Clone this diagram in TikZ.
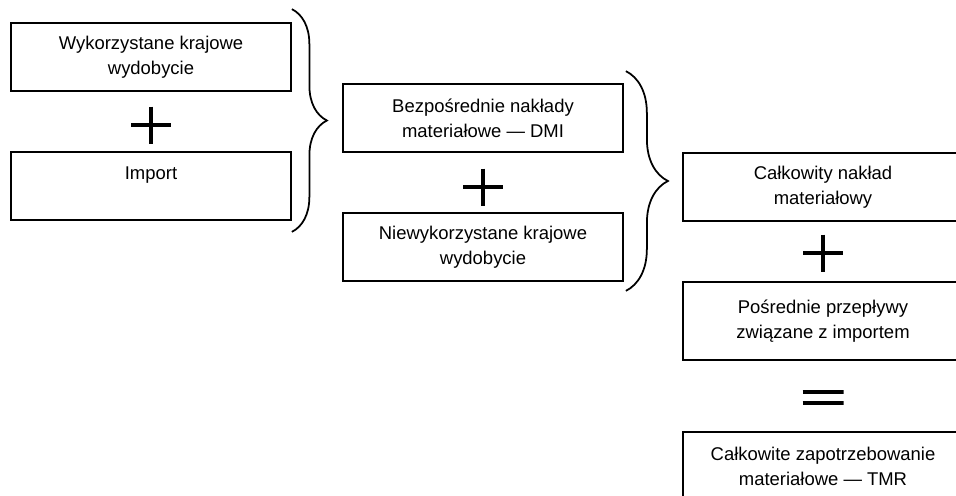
\documentclass[tikz,border=0pt]{standalone}
\usepackage{fontspec}
\setmainfont{Liberation Sans}
\usetikzlibrary{decorations.pathreplacing}

\begin{document}
\begin{tikzpicture}[
    box/.style={draw, line width=1pt, minimum width=5.6cm, minimum height=1.36cm,
      align=center, font=\fontsize{10.5}{14.2}\selectfont},
    plussign/.style={inner sep=0pt, minimum width=0.8cm, minimum height=0.74cm,
      path picture={
        \draw[line width=2.3pt] (path picture bounding box.north) -- (path picture bounding box.south);
        \draw[line width=2.3pt] (path picture bounding box.west) -- (path picture bounding box.east);}},
    eqsign/.style={inner sep=0pt, minimum width=0.82cm, minimum height=0.4cm,
      path picture={
        \draw[line width=2.3pt] ([yshift=0.11cm]path picture bounding box.west) -- ([yshift=0.11cm]path picture bounding box.east);
        \draw[line width=2.3pt] ([yshift=-0.11cm]path picture bounding box.west) -- ([yshift=-0.11cm]path picture bounding box.east);}},
    curly/.style={decorate, line width=1pt, decoration={brace, amplitude=#1}}
  ]
  \useasboundingbox (0,0) rectangle (19.12,-9.9);

  % first column
  \node (wyk) [box] at (3.02,-1.14) {Wykorzystane krajowe\\wydobycie};
  \node (imp) [box, below of=wyk, node distance=2.58cm] {Import\\\phantom{I}};
  \node (p1) [plussign, below of=wyk, node distance=1.36cm] {};

  % second column
  \node (dmi) [box] at (9.66,-2.36) {Bezpośrednie nakłady\\materiałowe — DMI};
  \node (niew) [box, below of=dmi, node distance=2.58cm] {Niewykorzystane krajowe\\wydobycie};
  \node (p2) [plussign, below of=dmi, node distance=1.38cm] {};

  % third column
  \node (cnm) [box] at (16.46,-3.74) {Całkowity nakład\\materiałowy};
  \node (p3) [plussign, below of=cnm, node distance=1.32cm] {};
  \node (posr) [box, minimum height=1.56cm, below of=cnm, node distance=2.68cm] {Pośrednie przepływy\\związane z importem};
  \node (eq) [eqsign, below of=posr, node distance=1.53cm] {};
  \node (tmr) [box, below of=posr, node distance=2.9cm] {Całkowite zapotrzebowanie\\materiałowe — TMR};

  % braces
  \coordinate (b1a) at ([yshift=0.26cm]wyk.north east);
  \coordinate (b1b) at ([yshift=-0.22cm]imp.south east);
  \coordinate (b2a) at ([xshift=0.04cm, yshift=0.24cm]dmi.north east);
  \coordinate (b2b) at ([xshift=0.04cm, yshift=-0.18cm]niew.south east);
  \draw[curly=0.7cm] (b1a) -- (b1b);
  \draw[curly=0.84cm] (b2a) -- (b2b);
\end{tikzpicture}
\end{document}
